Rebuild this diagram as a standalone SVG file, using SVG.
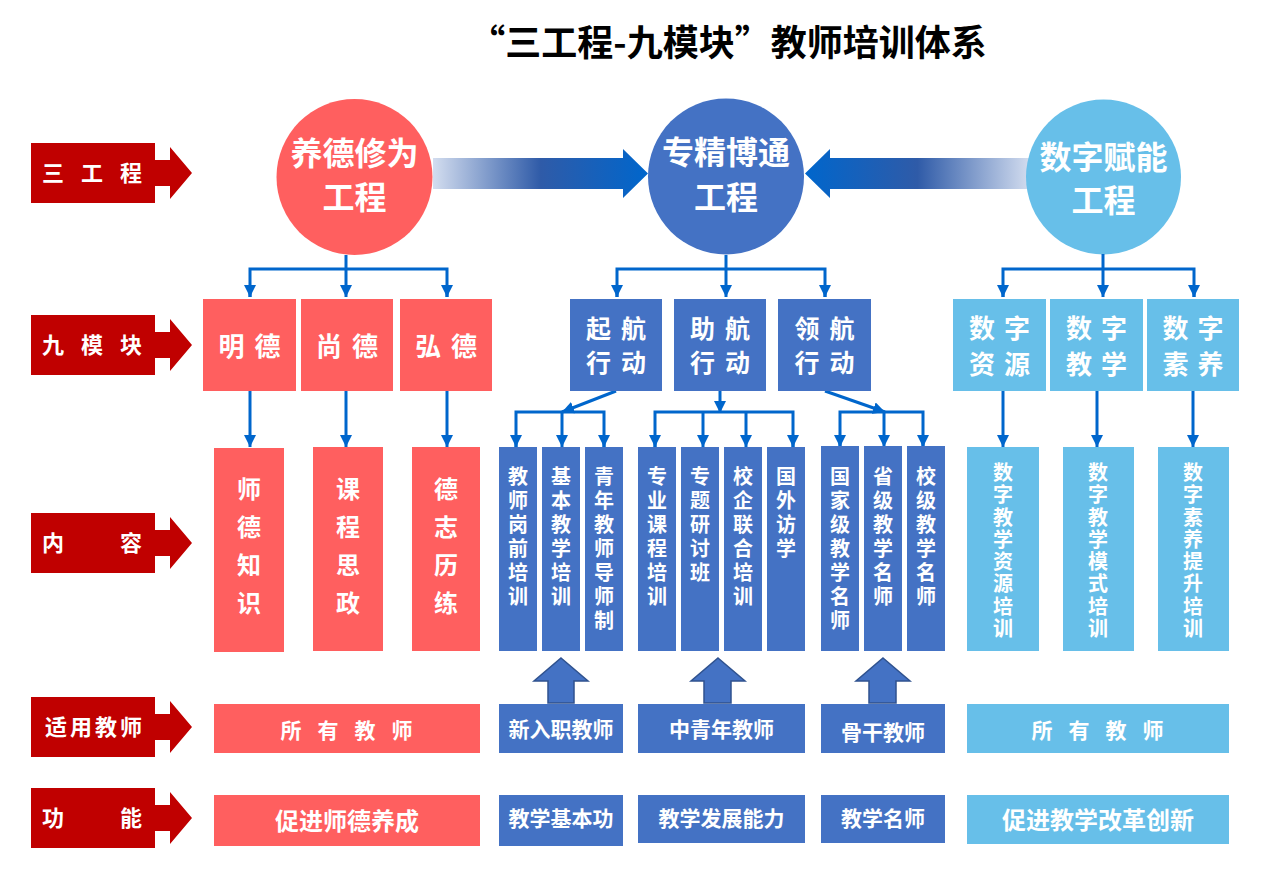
<svg xmlns="http://www.w3.org/2000/svg" width="1279" height="874" viewBox="0 0 1279 874">
<defs>
<style>
text{font-family:"Noto Sans CJK SC","Noto Sans",sans-serif;fill:#fff;text-anchor:middle}
.title{fill:#000;font-size:36px;font-weight:700}
.lbl{font-size:22px;font-weight:700}
.circ{font-size:32px;font-weight:700}
.mod{font-size:26px;font-weight:700}
.mod2{font-size:25px;font-weight:700}
.vc{font-size:24px;font-weight:700}
.vb{font-size:20px;font-weight:700}
.bt{font-size:21px;font-weight:700}
.bt2{font-size:24px;font-weight:700}
.red{fill:#FF5F5F}
.blue{fill:#4472C4}
.lb{fill:#67BFE9}
.lab{fill:#C00000}
.con line,.con polyline{stroke:#0066CC;stroke-width:3;fill:none}
.ua{fill:#4472C4;stroke:#2F528F;stroke-width:1.5}
</style>
<marker id="ah" markerUnits="userSpaceOnUse" markerWidth="12" markerHeight="12" refX="12" refY="6" orient="auto">
<path d="M0,0 L12,6 L0,12 z" fill="#0066CC"/>
</marker>
<linearGradient id="gl" gradientUnits="userSpaceOnUse" x1="433" y1="0" x2="648" y2="0">
<stop offset="0" stop-color="#D3DDEF"/>
<stop offset="0.5" stop-color="#2F5BA8"/>
<stop offset="1" stop-color="#0066CC"/>
</linearGradient>
<linearGradient id="gr" gradientUnits="userSpaceOnUse" x1="1030" y1="0" x2="805" y2="0">
<stop offset="0" stop-color="#D3DDEF"/>
<stop offset="0.5" stop-color="#2F5BA8"/>
<stop offset="1" stop-color="#0066CC"/>
</linearGradient>
<path id="lp" d="M0 0 H124 V17 H139 V4 L161 30 L139 56 V43 H124 V60 H0 Z"/>
</defs>
<rect width="1279" height="874" fill="#fff"/>

<text class="title" x="728" y="56">“三工程-九模块”教师培训体系</text>

<g id="labels">
<g id="lab-sangongcheng"><use href="#lp" class="lab" x="31" y="143"/><text class="lbl" x="53 92 131" y="181">三工程</text></g>
<g id="lab-jiumokuai"><use href="#lp" class="lab" x="31" y="315"/><text class="lbl" x="53 92 131" y="353">九模块</text></g>
<g id="lab-neirong"><use href="#lp" class="lab" x="31" y="513"/><text class="lbl" x="53 131" y="551">内容</text></g>
<g id="lab-shiyong"><use href="#lp" class="lab" x="31" y="697"/><text class="lbl" x="56 81 106 131" y="735">适用教师</text></g>
<g id="lab-gongneng"><use href="#lp" class="lab" x="31" y="788"/><text class="lbl" x="53 131" y="826">功能</text></g>
</g>

<g id="arrows-big">
<path d="M433 158 H623 V149 L648 173.5 L623 198 V189 H433 Z" fill="url(#gl)"/>
<path d="M1030 158 H830 V149 L805 173.5 L830 198 V189 H1030 Z" fill="url(#gr)"/>
</g>

<g id="c-yangde"><circle cx="354.5" cy="177" r="78" class="red"/><text class="circ" x="354.5" y="165">养德修为</text><text class="circ" x="354.5" y="209">工程</text></g>
<g id="c-zhuanjing"><circle cx="726" cy="176.5" r="78" class="blue"/><text class="circ" x="726" y="164">专精博通</text><text class="circ" x="726" y="209">工程</text></g>
<g id="c-shuzi"><circle cx="1103.5" cy="177" r="77.5" class="lb"/><text class="circ" x="1103.5" y="169">数字赋能</text><text class="circ" x="1103.5" y="212">工程</text></g>

<g class="con" id="connectors">
<line x1="346" y1="255" x2="346" y2="297" marker-end="url(#ah)"/>
<polyline points="250,297 250,269 447,269 447,297"/>
<line x1="250" y1="285" x2="250" y2="297" marker-end="url(#ah)"/>
<line x1="447" y1="285" x2="447" y2="297" marker-end="url(#ah)"/>
<line x1="726" y1="255" x2="726" y2="297" marker-end="url(#ah)"/>
<polyline points="617,297 617,269 825,269 825,297"/>
<line x1="617" y1="285" x2="617" y2="297" marker-end="url(#ah)"/>
<line x1="825" y1="285" x2="825" y2="297" marker-end="url(#ah)"/>
<line x1="1103" y1="254" x2="1103" y2="297" marker-end="url(#ah)"/>
<polyline points="1003,297 1003,269 1194,269 1194,297"/>
<line x1="1003" y1="285" x2="1003" y2="297" marker-end="url(#ah)"/>
<line x1="1194" y1="285" x2="1194" y2="297" marker-end="url(#ah)"/>
<line x1="250" y1="391" x2="250" y2="447" marker-end="url(#ah)"/>
<line x1="346" y1="391" x2="346" y2="447" marker-end="url(#ah)"/>
<line x1="447" y1="391" x2="447" y2="447" marker-end="url(#ah)"/>
<line x1="1003" y1="391" x2="1003" y2="447" marker-end="url(#ah)"/>
<line x1="1097" y1="391" x2="1097" y2="447" marker-end="url(#ah)"/>
<line x1="1193" y1="391" x2="1193" y2="447" marker-end="url(#ah)"/>
<line x1="616" y1="391" x2="562" y2="412" marker-end="url(#ah)"/>
<polyline points="516,447 516,412 604,412 604,447"/>
<line x1="516" y1="435" x2="516" y2="447" marker-end="url(#ah)"/>
<line x1="562" y1="412" x2="562" y2="447" marker-end="url(#ah)"/>
<line x1="604" y1="435" x2="604" y2="447" marker-end="url(#ah)"/>
<line x1="720" y1="391" x2="720" y2="413" marker-end="url(#ah)"/>
<polyline points="655,447 655,412 793,412 793,447"/>
<line x1="655" y1="435" x2="655" y2="447" marker-end="url(#ah)"/>
<line x1="703" y1="412" x2="703" y2="447" marker-end="url(#ah)"/>
<line x1="746" y1="412" x2="746" y2="447" marker-end="url(#ah)"/>
<line x1="793" y1="435" x2="793" y2="447" marker-end="url(#ah)"/>
<line x1="825" y1="391" x2="885" y2="412" marker-end="url(#ah)"/>
<polyline points="840,447 840,412 923,412 923,447"/>
<line x1="840" y1="435" x2="840" y2="447" marker-end="url(#ah)"/>
<line x1="884" y1="412" x2="884" y2="447" marker-end="url(#ah)"/>
<line x1="923" y1="435" x2="923" y2="447" marker-end="url(#ah)"/>
</g>

<g id="m-mingde"><rect x="203" y="299" width="93" height="92" class="red"/><text class="mod" x="231.5 267.5" y="356">明德</text></g>
<g id="m-shangde"><rect x="301" y="299" width="92" height="92" class="red"/><text class="mod" x="329 365" y="356">尚德</text></g>
<g id="m-hongde"><rect x="400" y="299" width="92" height="92" class="red"/><text class="mod" x="428 464" y="356">弘德</text></g>
<g id="m-qihang"><rect x="570" y="299" width="92" height="92" class="blue"/><text class="mod2" x="598.5 633.5" y="338">起航</text><text class="mod2" x="598.5 633.5" y="371.5">行动</text></g>
<g id="m-zhuhang"><rect x="674" y="299" width="92" height="92" class="blue"/><text class="mod2" x="702.5 737.5" y="338">助航</text><text class="mod2" x="702.5 737.5" y="371.5">行动</text></g>
<g id="m-linghang"><rect x="778" y="299" width="93" height="92" class="blue"/><text class="mod2" x="807 842" y="338">领航</text><text class="mod2" x="807 842" y="371.5">行动</text></g>
<g id="m-szzy"><rect x="953" y="299" width="93" height="92" class="lb"/><text class="mod" x="982 1017" y="338">数字</text><text class="mod" x="982 1017" y="374">资源</text></g>
<g id="m-szjx"><rect x="1050" y="299" width="93" height="92" class="lb"/><text class="mod" x="1079 1114" y="338">数字</text><text class="mod" x="1079 1114" y="374">教学</text></g>
<g id="m-szsy"><rect x="1147" y="299" width="92" height="92" class="lb"/><text class="mod" x="1175.5 1210.5" y="338">数字</text><text class="mod" x="1175.5 1210.5" y="374">素养</text></g>

<g id="n-sdzs"><rect x="214" y="448" width="70" height="204" class="red"/><text class="vc" x="249 249 249 249" y="498 536 574 612">师德知识</text></g>
<g id="n-kcsz"><rect x="313" y="447" width="70" height="204" class="red"/><text class="vc" x="348 348 348 348" y="498 536 574 612">课程思政</text></g>
<g id="n-dzll"><rect x="412" y="447" width="68" height="204" class="red"/><text class="vc" x="446 446 446 446" y="498 536 574 612">德志历练</text></g>

<g id="n-jsgq"><rect x="499" y="447" width="38" height="204" class="blue"/><text class="vb" x="518 518 518 518 518 518" y="484 508 532 556 580 604">教师岗前培训</text></g>
<g id="n-jbjx"><rect x="542" y="447" width="38" height="204" class="blue"/><text class="vb" x="561 561 561 561 561 561" y="484 508 532 556 580 604">基本教学培训</text></g>
<g id="n-qnjs"><rect x="585" y="447" width="38" height="204" class="blue"/><text class="vb" x="604 604 604 604 604 604 604" y="484 508 532 556 580 604 628">青年教师导师制</text></g>
<g id="n-zykc"><rect x="638" y="447" width="38" height="204" class="blue"/><text class="vb" x="657 657 657 657 657 657" y="484 508 532 556 580 604">专业课程培训</text></g>
<g id="n-ztyt"><rect x="681" y="447" width="38" height="204" class="blue"/><text class="vb" x="700 700 700 700 700" y="484 508 532 556 580">专题研讨班</text></g>
<g id="n-xqlh"><rect x="724" y="447" width="38" height="204" class="blue"/><text class="vb" x="743 743 743 743 743 743" y="484 508 532 556 580 604">校企联合培训</text></g>
<g id="n-gwfx"><rect x="767" y="447" width="38" height="204" class="blue"/><text class="vb" x="786 786 786 786" y="484 508 532 556">国外访学</text></g>
<g id="n-gjjms"><rect x="821" y="446" width="38" height="205" class="blue"/><text class="vb" x="840 840 840 840 840 840 840" y="484 508 532 556 580 604 628">国家级教学名师</text></g>
<g id="n-sjms"><rect x="864" y="446" width="38" height="205" class="blue"/><text class="vb" x="883 883 883 883 883 883" y="484 508 532 556 580 604">省级教学名师</text></g>
<g id="n-xjms"><rect x="907" y="446" width="38" height="205" class="blue"/><text class="vb" x="926 926 926 926 926 926" y="484 508 532 556 580 604">校级教学名师</text></g>

<g id="n-szjxzy"><rect x="967" y="447" width="72" height="204" class="lb"/><text class="vb" x="1003 1003 1003 1003 1003 1003 1003 1003" y="480 502 524.5 547 569 591 613.5 636">数字教学资源培训</text></g>
<g id="n-szjxms"><rect x="1063" y="447" width="71" height="204" class="lb"/><text class="vb" x="1098 1098 1098 1098 1098 1098 1098 1098" y="480 502 524.5 547 569 591 613.5 636">数字教学模式培训</text></g>
<g id="n-szsyts"><rect x="1158" y="447" width="71" height="204" class="lb"/><text class="vb" x="1193 1193 1193 1193 1193 1193 1193 1193" y="480 502 524.5 547 569 591 613.5 636">数字素养提升培训</text></g>

<g id="up-arrows">
<path class="ua" d="M561 658 L588 681 H574 V703 H548 V681 H534 Z"/>
<path class="ua" d="M718 658 L745 681 H731 V703 H704 V681 H691 Z"/>
<path class="ua" d="M883 658 L910 681 H896 V703 H869 V681 H856 Z"/>
</g>

<g id="t-all1"><rect x="214" y="704" width="266" height="49" class="red"/><text class="bt" x="291 328 365 402" y="738">所有教师</text></g>
<g id="t-new"><rect x="499" y="704" width="124" height="49" class="blue"/><text class="bt" x="561" y="737">新入职教师</text></g>
<g id="t-mid"><rect x="638" y="704" width="167" height="49" class="blue"/><text class="bt" x="721.5" y="737">中青年教师</text></g>
<g id="t-gg"><rect x="821" y="704" width="124" height="49" class="blue"/><text class="bt" x="883" y="740">骨干教师</text></g>
<g id="t-all2"><rect x="967" y="704" width="262" height="49" class="lb"/><text class="bt" x="1042 1079 1116 1153" y="738">所有教师</text></g>

<g id="f-sdyc"><rect x="214" y="795" width="266" height="51" class="red"/><text class="bt2" x="347" y="830">促进师德养成</text></g>
<g id="f-jbg"><rect x="499" y="795" width="124" height="51" class="blue"/><text class="bt" x="561" y="826">教学基本功</text></g>
<g id="f-fz"><rect x="638" y="795" width="167" height="48" class="blue"/><text class="bt" x="721.5" y="826">教学发展能力</text></g>
<g id="f-ms"><rect x="821" y="795" width="124" height="48" class="blue"/><text class="bt" x="883" y="826">教学名师</text></g>
<g id="f-gg"><rect x="967" y="795" width="262" height="49" class="lb"/><text class="bt2" x="1098" y="829">促进教学改革创新</text></g>
</svg>
